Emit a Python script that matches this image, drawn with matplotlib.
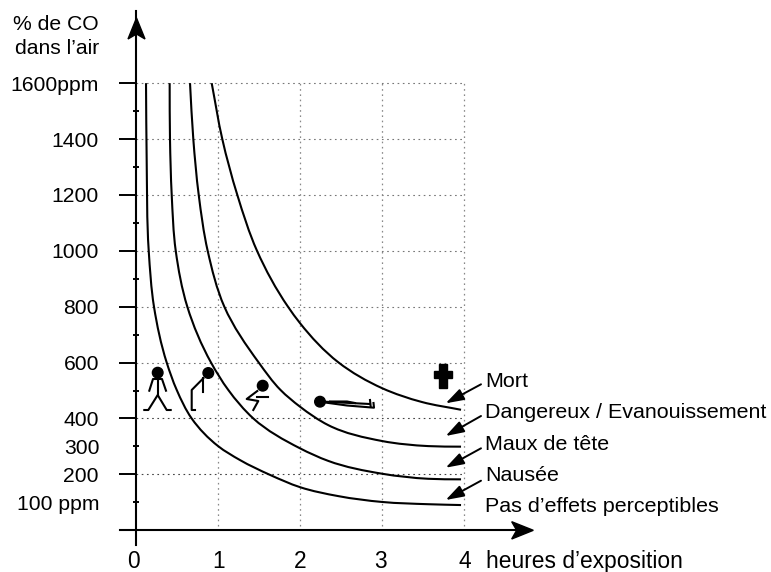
import matplotlib
matplotlib.use('Agg')
import matplotlib.pyplot as plt
from matplotlib.patches import Circle, Polygon, PathPatch
from matplotlib.path import Path
from matplotlib.transforms import Affine2D

plt.rcParams['font.family'] = ['Liberation Sans', 'DejaVu Sans']

# curves: (hours, ppm)
pas_h = [.122, .13, .155, .219, .374, .496, .678, 1.0, 1.267, 1.632, 1.998, 2.464, 3.0, 3.56, 3.959]
pas_ppm = [1600, 1325, 1000, 800, 600, 502, 400, 301, 251, 198, 154, 122, 101, 93, 90]
nausee_h = [.410, .414, .435, .484, .625, .914, 1.124, 1.429, 1.998, 2.342, 3.0, 3.56, 3.959]
nausee_ppm = [1600, 1400, 1200, 1000, 800, 600, 502, 400, 293, 248, 202, 184, 182]
maux_h = [.658, .698, .764, .873, 1.076, 1.495, 1.76, 1.998, 2.342, 3.0, 3.56, 3.959]
maux_ppm = [1600, 1400, 1200, 1000, 800, 600, 502, 442, 376, 319, 301, 299]
mort_h = [.922, 1.051, 1.234, 1.474, 1.851, 1.998, 2.464, 3.0, 3.48, 3.959]
mort_ppm = [1600, 1400, 1200, 1000, 800, 741, 601, 508, 459, 431]

y_major = [200, 400, 600, 800, 1000, 1200, 1400, 1600]
y_major_labels = ['200', '400', '600', '800', '1000', '1200', '1400', '1600ppm']
y_minor = [100, 300, 500, 700, 900, 1100, 1300, 1500]
y_minor_labels = ['100 ppm', '300', '', '', '', '', '', '']
x_ticks = [0, 1, 2, 3, 4]
x_grid = [1, 2, 3, 4]
effects = ['Mort', 'Dangereux / Evanouissement', 'Maux de tête', 'Nausée', 'Pas d’effets perceptibles']

W, H = 771, 572
X0, XS = 136, 82.1
Y0, YS = 530.2, 0.2794
FS = 15.2

fig = plt.figure(figsize=(W / 100, H / 100), dpi=100)
ax = fig.add_axes([0, 0, 1, 1])
ax.set_xlim(-X0 / XS, (W - X0) / XS)
ax.set_ylim((Y0 - H) / YS, Y0 / YS)
ax.patch.set_alpha(0)

# pixel coordinates of the reference, y downwards
px = Affine2D().scale(1, -1).translate(0, H)


def smooth_path(xs, ys):
    # bezier through the read points, tangents weighted by chord length in pixel space
    pts = [(x * XS, y * YS) for x, y in zip(xs, ys)]
    n = len(pts)
    chords = []
    for i in range(n - 1):
        dx, dy = pts[i + 1][0] - pts[i][0], pts[i + 1][1] - pts[i][1]
        d = (dx * dx + dy * dy) ** 0.5
        chords.append((dx / d, dy / d, d))
    tang = [chords[0][:2]]
    for i in range(1, n - 1):
        a, b = chords[i - 1], chords[i]
        tx = (b[2] * a[0] + a[2] * b[0])
        ty = (b[2] * a[1] + a[2] * b[1])
        t = (tx * tx + ty * ty) ** 0.5
        tang.append((tx / t, ty / t))
    tang.append(chords[-1][:2])
    verts = [pts[0]]
    codes = [Path.MOVETO]
    for i in range(n - 1):
        p, q = pts[i], pts[i + 1]
        d = chords[i][2] / 3
        verts.append((p[0] + tang[i][0] * d, p[1] + tang[i][1] * d))
        verts.append((q[0] - tang[i + 1][0] * d, q[1] - tang[i + 1][1] * d))
        verts.append(q)
        codes += [Path.CURVE4] * 3
    return Path([(v[0] / XS, v[1] / YS) for v in verts], codes)


for s in ['top', 'right']:
    ax.spines[s].set_visible(False)
ax.spines['left'].set_position(('data', 0))
ax.spines['bottom'].set_position(('data', 0))
ax.spines['left'].set_bounds(-54, 1860)
ax.spines['bottom'].set_bounds(-0.2, 4.8)
ax.spines['left'].set_linewidth(1.5)
ax.spines['bottom'].set_linewidth(1.5)

ax.set_yticks(y_major, y_major_labels)
ax.set_yticks(y_minor, y_minor_labels, minor=True)
ax.set_xticks(x_ticks)
ax.tick_params(axis='y', which='major', direction='out', length=12.3, width=1.4, pad=14.4, labelsize=FS)
ax.tick_params(axis='y', which='minor', direction='inout', length=5, width=1.4, pad=24, labelsize=FS)
ax.tick_params(axis='x', length=0, pad=14, labelsize=16.4)
labs = ax.get_xticklabels()
labs[0].set_transform(labs[0].get_transform() + Affine2D().translate(-3, 0))
labs[3].set_transform(labs[3].get_transform() + Affine2D().translate(-2, 0))

# dotted grid stops at 4 h and 1600 ppm
for v in y_major:
    col = '#444444' if v <= 400 else '#777777'
    ax.hlines(v, 0, 4, color=col, lw=0.8, linestyles=(0, (1.5, 3.2)), zorder=1)
for v in x_grid:
    ax.vlines(v, 16, 1600, color='#888888', lw=0.9, linestyles=(0, (1.3, 2.9)), zorder=1)

for xs, ys in [(pas_h, pas_ppm), (nausee_h, nausee_ppm), (maux_h, maux_ppm), (mort_h, mort_ppm)]:
    ax.add_patch(PathPatch(smooth_path(xs, ys), fill=False, edgecolor='black', lw=1.5, zorder=3))

# axis arrow heads
ax.add_patch(Polygon([(136.5, 18), (145, 39), (136.5, 34), (128, 39)], color='black', transform=px, zorder=4))
ax.add_patch(Polygon([(533.3, 530.3), (511.7, 521.7), (516.7, 530.3), (511.7, 539)], color='black', transform=px, zorder=4))

# texts
ax.text(99, 30, '% de CO', transform=px, ha='right', va='baseline', fontsize=FS)
ax.text(99, 54, 'dans l’air', transform=px, ha='right', va='baseline', fontsize=FS)
ax.text(486.5, 568, 'heures d’exposition', transform=px, ha='left', va='baseline', fontsize=16.4)
for name, base in zip(effects, [387.3, 418.3, 450, 480.7, 511.7]):
    ax.text(485, base, name, transform=px, ha='left', va='baseline', fontsize=15.45)

# arrows to the curves
for start, tip in [((481, 384.3), (445.7, 403.3)), ((481, 416), (445.7, 436)),
                   ((481, 448.3), (445.7, 467.7)), ((481, 480.7), (445.7, 500))]:
    ax.annotate('', xy=tip, xytext=start, xycoords=px, textcoords=px,
                arrowprops=dict(arrowstyle='-|>,head_length=1.1,head_width=0.36', color='black', lw=1.4,
                                shrinkA=0, shrinkB=0))

# cross
ax.add_patch(Polygon([(439.3, 364.3), (447.3, 364.3), (447.3, 370.7), (452.3, 370.7), (452.3, 377.7),
                      (447.3, 377.7), (447.3, 388.3), (439.3, 388.3), (439.3, 377.7), (434.3, 377.7),
                      (434.3, 370.7), (439.3, 370.7)], color='black', transform=px))

# little figures
heads = [(157.7, 372.7), (208.3, 373), (262.7, 385.7), (320, 401.7)]
for c in heads:
    ax.add_patch(Circle(c, 5.3, color='black', transform=px, zorder=5))
strokes = [
    [(157.7, 378), (157.7, 395)],
    [(149.3, 390.7), (153, 379), (162, 379), (166, 390.7)],
    [(144.3, 410), (148.3, 410), (157.7, 395), (166.7, 410), (170.7, 410)],
    [(203.3, 378.3), (191.7, 390), (191.7, 410), (195, 410)],
    [(203.3, 378.3), (203.3, 392.3)],
    [(257.3, 391), (246.7, 399), (258.3, 401), (253.3, 410)],
    [(256.7, 396.7), (268.3, 396.7)],
    [(325, 401.7), (370, 404)],
    [(370, 400), (370.7, 406.7)],
    [(325, 402.5), (347, 405.5), (374, 407.7), (373.5, 403)],
    [(330, 401.5), (347, 401.5), (355, 403)],
]
for st in strokes:
    ax.plot([p[0] for p in st], [p[1] for p in st], color='black', lw=1.5, transform=px, zorder=4)

fig.savefig('out.png', dpi=100, facecolor='white')
